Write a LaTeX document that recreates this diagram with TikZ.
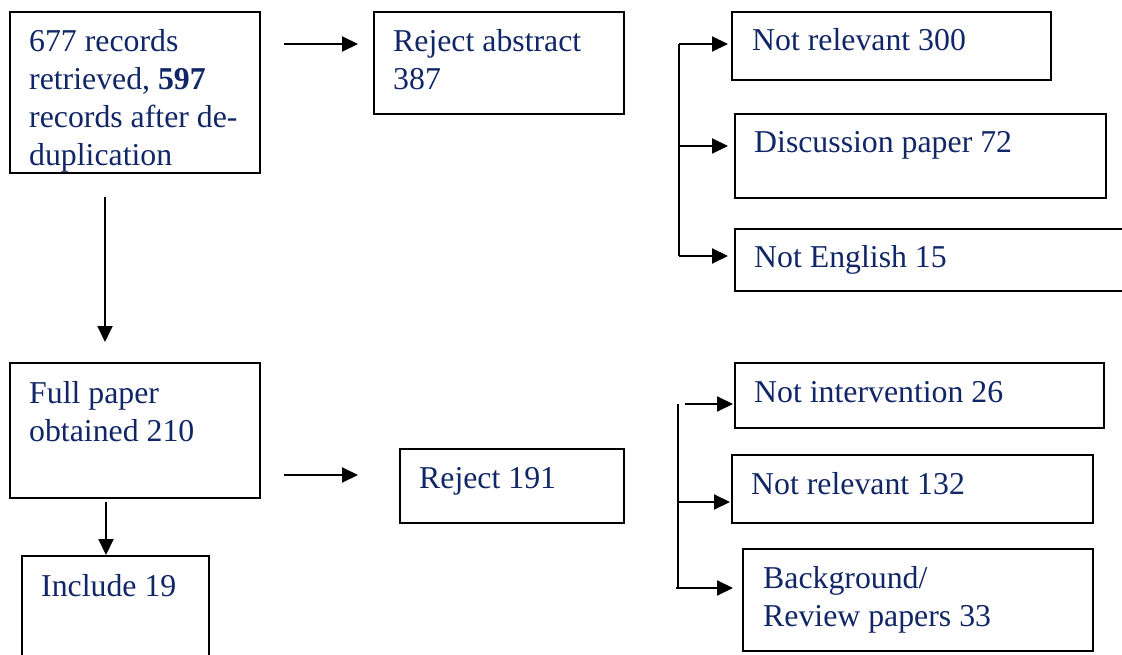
\documentclass[tikz,border=0pt]{standalone}
\usepackage{fontspec}
\setmainfont{Liberation Serif}
\usepackage{xcolor}
\usepackage{tikz}
\usetikzlibrary{arrows.meta}

\definecolor{navy}{RGB}{16,38,102}

\begin{document}
\begin{tikzpicture}[x=1pt, y=-1pt,
    box/.style={draw, line width=2pt, anchor=north west, inner sep=0pt},
    lbl/.style={anchor=base west, inner sep=0pt, align=left, text=navy,
      font=\fontsize{31.8pt}{38pt}\selectfont},
    >={Triangle[length=16pt, width=15pt]}]
  \useasboundingbox (0,0) rectangle (1122,655);

  % first stage: records and abstracts (labels sit on their last baseline)
  \node[box, minimum width=250, minimum height=161] (recs) at (9,11) {};
  \node[lbl] (recstxt) at (29,166) {677 records\\retrieved, \textbf{597}\\records after de-\\duplication};
  \node[box, minimum width=250, minimum height=102] (rejab) at (373,11) {};
  \node[lbl] (rejabtxt) at (393,90) {Reject abstract\\387};

  \node[box, minimum width=319, minimum height=68] (nrel) at (731,11) {};
  \node[lbl] (nreltxt) at (752,51) {Not relevant 300};
  \node[box, minimum width=371, minimum height=84] (disc) at (734,113) {};
  \node[lbl] (disctxt) at (754,153) {Discussion paper 72};
  \node[box, minimum width=400, minimum height=62] (neng) at (734,228) {};
  \node[lbl] (nengtxt) at (754,267) {Not English 15};

  % second stage: full papers
  \node[box, minimum width=250, minimum height=135] (full) at (9,362) {};
  \node[lbl] (fulltxt) at (29,441) {Full paper\\obtained 210};
  \node[box, minimum width=187, minimum height=110] (incl) at (21,555) {};
  \node[lbl] (incltxt) at (41,596) {Include 19};
  \node[box, minimum width=224, minimum height=74] (rejfull) at (399,448) {};
  \node[lbl] (rejfulltxt) at (419,488) {Reject 191};

  \node[box, minimum width=369, minimum height=65] (nint) at (734,362) {};
  \node[lbl] (ninttxt) at (754,402) {Not intervention 26};
  \node[box, minimum width=361, minimum height=68] (nrelb) at (731,454) {};
  \node[lbl] (nrelbtxt) at (751,494) {Not relevant 132};
  \node[box, minimum width=350, minimum height=102] (back) at (742,548) {};
  \node[lbl] (backtxt) at (763,626) {Background/\\Review papers 33};

  % main arrows
  \coordinate (ra) at (284,44);
  \coordinate (rb) at (358,44);
  \draw[->, line width=2pt] (ra) -- (rb);
  \coordinate (da) at (105,197);
  \draw[->, line width=2pt, shorten >=20pt] (da) -- (da |- full.north);
  \coordinate (fa) at (284,475);
  \coordinate (fb) at (358,475);
  \draw[->, line width=2pt] (fa) -- (fb);
  \coordinate (ia) at (106,502);
  \draw[->, line width=2pt] (ia) -- (ia |- incl.north);

  % reasons for rejecting abstracts
  \coordinate (s1) at (679,44);
  \coordinate (s2) at (679,146);
  \coordinate (s3) at (679,256);
  \draw[line width=2pt] (s1) -- (s3);
  \draw[->, line width=2pt, shorten >=3pt] (s1) -- (s1 -| nrel.west);
  \draw[->, line width=2pt, shorten >=6pt] (s2) -- (s2 -| disc.west);
  \draw[->, line width=2pt, shorten >=6pt] (s3) -- (s3 -| neng.west);

  % reasons for rejecting full papers
  \coordinate (t1) at (678,404);
  \coordinate (t2) at (678,502);
  \coordinate (t3) at (678,588);
  \draw[line width=2pt] (t1) -- (t3);
  \draw[->, line width=2pt, shorten >=1pt] ([xshift=7]t1) -- (t1 -| nint.west);
  \draw[->, line width=2pt, shorten >=1pt] (t2) -- (t2 -| nrelb.west);
  \draw[->, line width=2pt, shorten >=9pt] ([xshift=-2]t3) -- (t3 -| back.west);
\end{tikzpicture}
\end{document}
